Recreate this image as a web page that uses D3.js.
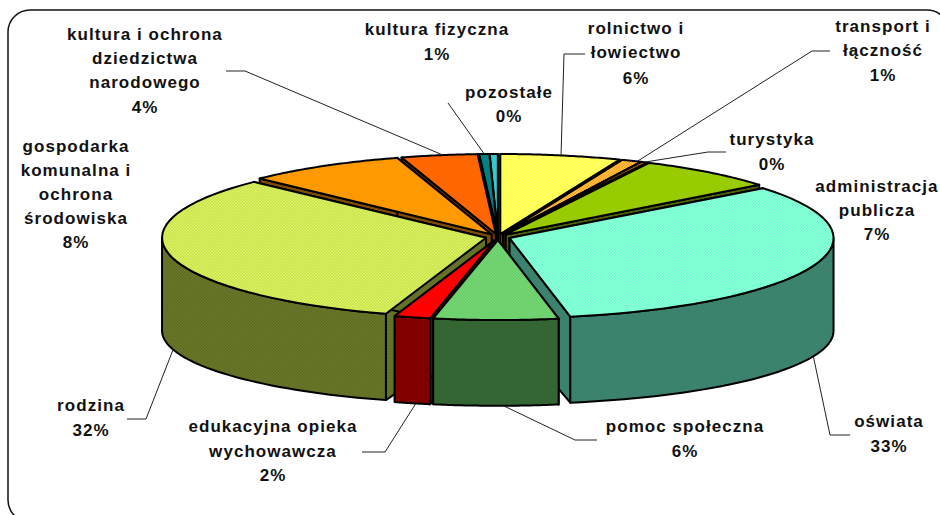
<!DOCTYPE html>
<html>
<head>
<meta charset="utf-8">
<script src="https://cdn.jsdelivr.net/npm/d3@7"></script>
<style>
  html, body { margin: 0; padding: 0; background: #fff; overflow: hidden; }
  text { font-family: "Liberation Sans", Arial, sans-serif; font-weight: bold; font-size: 17px; letter-spacing: 1.05px; fill: #111; text-anchor: middle; }
</style>
</head>
<body>
<div id="chart"></div>
<script>
// clockwise from 12 o'clock
var categories = [
  ["rolnictwo i", "łowiectwo"],
  ["transport i", "łączność"],
  ["turystyka"],
  ["administracja", "publicza"],
  ["oświata"],
  ["pomoc społeczna"],
  ["edukacyjna opieka", "wychowawcza"],
  ["rodzina"],
  ["gospodarka", "komunalna i", "ochrona", "środowiska"],
  ["kultura i ochrona", "dziedzictwa", "narodowego"],
  ["kultura fizyczna"],
  ["pozostałe"]
];
var values = [6, 1, 0.3, 7, 32.7, 6.2, 1.8, 32.3, 8, 3.8, 0.5, 0.4];

var topColors = ["#ffff33", "#ff9933", "#cc6600", "#99cc00", "#66ffcc", "#66cc66", "#ff0000", "#c8e040", "#ff9900", "#ff6600", "#008080", "#33cccc"];
var topColors2 = ["#ffff80", "#ffcc33", "#cc6600", "#99cc00", "#99ffdd", "#78d878", "#ff0000", "#dcf470", "#ff9900", "#ff6600", "#008080", "#33cccc"];
var sideColors = ["#808020", "#804c19", "#663300", "#4d6600", "#408573", "#336633", "#800000", "#6b7a2c", "#804d00", "#803300", "#004040", "#1a6666"];
var sideColors2 = ["#808020", "#804c19", "#663300", "#4d6600", "#36806a", "#336633", "#800000", "#5c6a20", "#804d00", "#803300", "#004040", "#1a6666"];

// label placement: centre x and baselines
var labelX = [636, 883, 772, 877, 889, 685, 273, 91, 76, 145, 437, 509];
var labelY = [
  [34, 58, 84], [32, 56, 81], [145, 170], [192, 216, 240], [427, 452], [432, 457],
  [432, 457, 481], [411, 436], [152, 176, 200, 224, 248], [40, 64, 88, 113], [35, 60], [98, 122]
];
// leader lines, null = none. last point is found on the pie rim
var leaders = [
  {from: [[585, 54], [564, 54]], rim: 0.5, wall: false},
  {from: [[830, 51], [812, 51]], rim: 0.8, wall: false},
  {from: [[726, 152], [708, 152]], rim: 0.5, wall: false},
  null,
  {from: [[850, 435], [830, 435]], rim: 0.5, wall: true},
  {from: [[597, 440], [575, 440]], rim: 0.44, wall: true},
  {from: [[362, 452], [385, 452]], rim: 0.4, wall: true},
  {from: [[127, 419], [146, 419]], rim: 0.49, wall: true},
  null,
  {from: [[226, 71], [245, 71]], rim: 0.55, wall: false},
  {from: [[448, 103]], rim: 0.5, wall: false},
  null
];

var width = 940, height = 515;
var cx = 498, cy = 237, rx = 324, ry = 80;
var bottomDrop = 93, bottomRy = 73;
var explode = 0.038;

var svg = d3.select("#chart").append("svg")
  .attr("width", width)
  .attr("height", height)
  .style("display", "block");

var defs = svg.append("defs");

function dither(id, c1, c2) {
  var p = defs.append("pattern")
    .attr("id", id)
    .attr("patternUnits", "userSpaceOnUse")
    .attr("width", 3)
    .attr("height", 3);
  p.append("rect").attr("width", 3).attr("height", 3).attr("fill", c1);
  p.append("rect").attr("width", 1.5).attr("height", 1.5).attr("fill", c2);
  p.append("rect").attr("x", 1.5).attr("y", 1.5).attr("width", 1.5).attr("height", 1.5).attr("fill", c2);
}

// frame runs off the right and bottom of the picture
svg.append("rect")
  .attr("x", 8).attr("y", 10)
  .attr("width", 941).attr("height", 512)
  .attr("rx", 22).attr("ry", 22)
  .attr("fill", "#fff")
  .attr("stroke", "#111")
  .attr("stroke-width", 1.5);

var xScale = d3.scaleLinear().domain([-1, 1]).range([cx - rx, cx + rx]);
var yTop = d3.scaleLinear().domain([-1, 1]).range([cy + ry, cy - ry]);
var yBottom = d3.scaleLinear().domain([-1, 1]).range([cy + bottomDrop + bottomRy, cy + bottomDrop - bottomRy]);

var pie = d3.pie().sort(null).value(function(d) { return d; });
var slices = pie(values).map(function(d, i) {
  d.index = i;
  d.mid = (d.startAngle + d.endAngle) / 2;
  d.ox = explode * Math.sin(d.mid);
  d.oy = explode * Math.cos(d.mid);
  return d;
});

function topPoint(d, a, r) {
  return [xScale(d.ox + r * Math.sin(a)), yTop(d.oy + r * Math.cos(a))];
}
function bottomPoint(d, a, r) {
  return [xScale(d.ox + r * Math.sin(a)), yBottom(d.oy + r * Math.cos(a))];
}
function arcPoints(fn, d, a0, a1) {
  return d3.range(0, 41).map(function(k) {
    return fn(d, a0 + (a1 - a0) * k / 40, 1);
  });
}

var line = d3.line();
function closed(pts) { return line(pts) + "Z"; }

// each slice gets its own fills
slices.forEach(function(d, i) {
  dither("top" + i, topColors[i], topColors2[i]);
  dither("side" + i, sideColors[i], sideColors2[i]);
});

// painter's order, the back of the pie first
var order = slices.slice().sort(function(a, b) { return d3.descending(a.oy, b.oy); });

var g = svg.append("g")
  .attr("stroke", "#000")
  .attr("stroke-width", 2)
  .attr("stroke-linejoin", "round");

order.forEach(function(d) {
  var s = g.append("g").attr("class", "slice");
  var fill = "url(#side" + d.index + ")";

  // the two cut faces
  [d.startAngle, d.endAngle].forEach(function(a) {
    s.append("path")
      .attr("fill", fill)
      .attr("d", closed([topPoint(d, a, 0), topPoint(d, a, 1), bottomPoint(d, a, 1), bottomPoint(d, a, 0)]));
  });

  // outer wall, only the part that faces the viewer
  var a0 = Math.max(d.startAngle, Math.PI / 2);
  var a1 = Math.min(d.endAngle, Math.PI * 3 / 2);
  if (a1 > a0) {
    s.append("path")
      .attr("fill", fill)
      .attr("d", closed(arcPoints(topPoint, d, a0, a1).concat(arcPoints(bottomPoint, d, a0, a1).reverse())));
  }

  // top face
  s.append("path")
    .attr("fill", "url(#top" + d.index + ")")
    .attr("d", closed([topPoint(d, d.startAngle, 0)].concat(arcPoints(topPoint, d, d.startAngle, d.endAngle))));
});

// leaders
slices.forEach(function(d, i) {
  var l = leaders[i];
  if (!l) return;
  var a = d.startAngle + (d.endAngle - d.startAngle) * l.rim;
  var end = (l.wall ? bottomPoint : topPoint)(d, a, 1);
  svg.append("path")
    .attr("fill", "none")
    .attr("stroke", "#222")
    .attr("stroke-width", 1)
    .attr("d", line(l.from.concat([end])));
});

// labels
slices.forEach(function(d, i) {
  var lines = categories[i].concat([Math.round(values[i]) + "%"]);
  var t = svg.append("text");
  lines.forEach(function(s, k) {
    t.append("tspan")
      .attr("x", labelX[i])
      .attr("y", labelY[i][k])
      .text(s);
  });
});
</script>
</body>
</html>
